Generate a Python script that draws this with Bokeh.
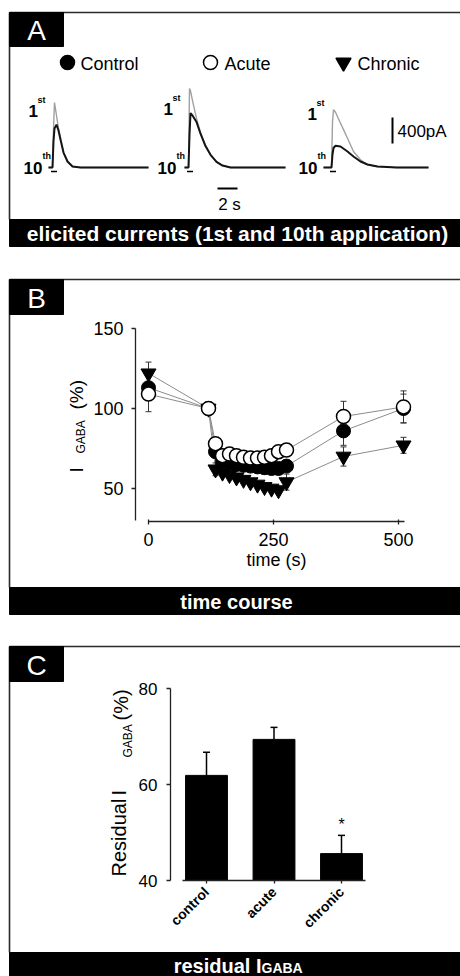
import math
from bokeh.plotting import figure
from bokeh.models import Range1d, LinearAxis, FixedTicker, Label, ColumnDataSource
from bokeh.embed import file_html
from bokeh.resources import INLINE
from bokeh.core.properties import value

FONT = "Liberation Sans"

# ---------------- data ----------------
series_names = ["Control", "Acute", "Chronic"]

# Panel A: elicited currents, time from onset (s) and current (pA)
ctrl_tr_t = [-0.4, 0.0, 0.1, 0.2, 0.4, 0.6, 0.8, 1.1, 1.5, 2.0, 2.8, 4.0, 6.0, 9.6]
ctrl_1st = [0, 0, 600, 1000, 800, 600, 446, 235, 95, 15, 0, 0, 0, 0]
ctrl_10th = [0, 0, 400, 600, 660, 570, 430, 230, 92, 15, 0, 0, 0, 0]

acute_tr_t = [-0.4, 0.0, 0.1, 0.2, 0.4, 0.8, 1.2, 1.7, 2.2, 2.8, 3.4, 4.2, 6.0, 9.7]
acute_1st = [0, 0, 1215, 1180, 1030, 755, 540, 340, 200, 90, 30, 0, 0, 0]
acute_10th = [0, 0, 500, 836, 800, 700, 520, 330, 195, 88, 30, 0, 0, 0]

chronic_tr_t = [-0.8, 0.0, 0.1, 0.2, 0.4, 0.9, 1.6, 2.2, 2.9, 3.6, 4.6, 6.5, 9.7]
chronic_1st = [0, 0, 700, 889, 850, 682, 451, 246, 119, 42, 15, 0, 0]
chronic_10th = [0, 0, 200, 300, 334, 323, 246, 170, 92, 46, 15, 0, 0]

scale_pA = 400
scale_s = 2

# Panel B: time course
time_s = [0, 120, 134, 148, 162, 176, 190, 204, 218, 232, 246, 260, 276, 390, 510]
control_pct = [113, 100, 73, 67, 66, 65, 64.5, 64, 63.5, 63, 62.5, 62.5, 64, 86, 100]
acute_pct = [109, 100, 78, 70.5, 71.5, 70.5, 69.5, 69, 69, 69.5, 70.5, 73, 74, 95, 101]
chronic_pct = [122, 100, 62, 60, 58.5, 57, 55.5, 54, 52.5, 51, 50, 49, 54, 70, 77]
control_err = [0, 0, 0, 0, 0, 0, 0, 0, 0, 4, 0, 0, 0, 9, 9]
acute_err = [11, 0, 0, 0, 0, 0, 0, 0, 0, 0, 0, 0, 0, 9.5, 10]
chronic_err = [7, 0, 4, 0, 0, 0, 0, 0, 0, 0, 0, 0, 5, 6, 5]
b_yticks = [50, 100, 150]
b_xticks = [0, 250, 500]

# Panel C: residual I_GABA
groups = ["control", "acute", "chronic"]
residual_pct = [61.9, 69.4, 45.6]
residual_err = [4.8, 2.5, 3.8]
c_yticks = [40, 60, 80]

# ---------------- figure ----------------
W, H = 460, 976
FX0, FX1, FY0, FY1 = 0, W, 0, H


def xr(d1, p1, d2, p2):
    s = (p2 - p1) / (d2 - d1)
    return Range1d(d1 - (p1 - FX0) / s, d1 + (FX1 - p1) / s)


def yr(d1, p1, d2, p2):
    s = (p1 - p2) / (d2 - d1)
    return Range1d(d1 - (FY1 - p1) / s, d1 + (p1 - FY0) / s)


p = figure(width=W, height=H, x_range=Range1d(FX0, FX1), y_range=Range1d(FY1, FY0),
           output_backend="svg", toolbar_location=None, min_border=0,
           x_axis_type=None, y_axis_type=None)
p.outline_line_color = None
p.background_fill_color = "white"
p.border_fill_color = "white"

p.extra_x_ranges = {"ax": xr(0, 52, 10, 152), "bx": xr(0, 148, 500, 398), "cx": xr(0, 206, 2, 341)}
p.extra_y_ranges = {"ay": yr(0, 167, 400, 141), "by": yr(50, 488, 100, 408), "cy": yr(40, 880, 80, 688)}


def lab(x, y, text, size, bold=False, color="black", align="left", baseline="alphabetic", angle=0.0):
    p.add_layout(Label(x=x, y=y, text=text, text_font=FONT, text_font_size=f"{size}px",
                       text_font_style="bold" if bold else "normal", text_color=color,
                       text_align=align, text_baseline=baseline, angle=angle))


BORDER = "#2a2a2a"
# panel frames: (top, header bottom, footer top, footer bottom)
panels = [("A", 12, 46, 219, 246), ("B", 279, 314, 587, 614), ("C", 646, 681, 952, 976)]
for letter, top, hb, ft, fb in panels:
    p.segment(x0=[9, 9], y0=[top, top], x1=[FX1, 9], y1=[top, ft], line_color=BORDER, line_width=1.6)
    p.quad(left=[9, 9], right=[63, FX1], top=[top, ft], bottom=[hb, fb], fill_color="black", line_color="black")
    lab(36, (top + hb) / 2 + 1, letter, 28, color="white", align="center", baseline="middle")

lab(237, 233, "elicited currents (1st and 10th application)", 21, bold=True, color="white",
    align="center", baseline="middle")
lab(236, 601, "time course", 20, bold=True, color="white", align="center", baseline="middle")
lab(261, 965, "residual I", 20, bold=True, color="white", align="right", baseline="middle")
lab(261, 967, "GABA", 14, bold=True, color="white", align="left", baseline="middle")

# ---------------- Panel A ----------------
leg = ColumnDataSource(dict(x=[67, 210, 343], y=[62, 62, 62],
                            marker=["circle", "circle", "inverted_triangle"],
                            fill=["black", "white", "black"], size=[14, 14, 15]))
p.scatter(x="x", y="y", marker="marker", size="size", fill_color="fill", line_color="black",
          line_width=1.5, source=leg)
for xx, name in zip([80, 224, 357], series_names):
    lab(xx, 63, name, 18, baseline="middle")

onsets = [0.0, 13.6, 27.9]
traces = [(ctrl_tr_t, ctrl_1st, ctrl_10th), (acute_tr_t, acute_1st, acute_10th),
          (chronic_tr_t, chronic_1st, chronic_10th)]
for off, (tt, first, tenth) in zip(onsets, traces):
    xs = [t + off for t in tt]
    p.line(xs, first, x_range_name="ax", y_range_name="ay", line_color="#a0a0a0", line_width=1.4)
    p.line(xs, tenth, x_range_name="ax", y_range_name="ay", line_color="#151515", line_width=2)
    p.segment(x0=[off - 0.15], y0=[-60], x1=[off + 0.45], y1=[-60], x_range_name="ax",
              y_range_name="ay", line_color="black", line_width=1.5)

# scale bars
p.segment(x0=[34], y0=[370], x1=[34], y1=[370 + scale_pA], x_range_name="ax", y_range_name="ay",
          line_color="black", line_width=2)
p.segment(x0=[16.5], y0=[-323], x1=[16.5 + scale_s], y1=[-323], x_range_name="ax", y_range_name="ay",
          line_color="black", line_width=2)
lab(397, 131, f"{scale_pA}pA", 17, baseline="middle")
lab(229, 204, f"{scale_s} s", 17, align="center", baseline="middle")

# 1st / 10th labels
for x1, y1, x10 in [(28, 110, 23), (163, 108, 157), (307, 113, 298)]:
    lab(x1, y1, "1", 17, bold=True)
    lab(x1 + 9, y1 - 11, "st", 9, bold=True)
    lab(x10, 167, "10", 17, bold=True)
    lab(x10 + 19, 155, "th", 9, bold=True)

# ---------------- Panel B ----------------
for vals in (chronic_pct, control_pct, acute_pct):
    p.line(time_s, vals, x_range_name="bx", y_range_name="by", line_color="#8c8c8c", line_width=1)

for vals, err in ((chronic_pct, chronic_err), (control_pct, control_err), (acute_pct, acute_err)):
    tt = [t for t, e in zip(time_s, err) if e > 0]
    lo = [v - e for v, e in zip(vals, err) if e > 0]
    hi = [v + e for v, e in zip(vals, err) if e > 0]
    p.segment(x0=tt, y0=lo, x1=tt, y1=hi, x_range_name="bx", y_range_name="by",
              line_color="#333333", line_width=1)
    p.scatter(tt + tt, lo + hi, marker="dash", size=6, line_color="#333333", line_width=1,
              x_range_name="bx", y_range_name="by")

p.scatter(time_s, chronic_pct, marker="inverted_triangle", size=15, fill_color="black",
          line_color="black", x_range_name="bx", y_range_name="by")
p.scatter(time_s, control_pct, marker="circle", size=14, fill_color="black", line_color="black",
          x_range_name="bx", y_range_name="by")
p.scatter(time_s, acute_pct, marker="circle", size=14, fill_color="white", line_color="black",
          line_width=1.5, x_range_name="bx", y_range_name="by")


def style_axis(ax, size, bold=False):
    ax.axis_line_color = "#222222"
    ax.axis_line_width = 1.3
    ax.major_tick_line_color = "#222222"
    ax.major_tick_line_width = 1.3
    ax.minor_tick_line_color = None
    ax.major_label_text_font = FONT
    ax.major_label_text_font_size = f"{size}px"
    ax.major_label_text_font_style = "bold" if bold else "normal"
    ax.major_label_text_color = "black"
    ax.axis_label_text_font = FONT
    ax.axis_label_text_font_style = "normal"
    ax.axis_label_text_color = "black"


by_ax = LinearAxis(x_range_name="bx", y_range_name="by", fixed_location=-26, bounds=(30, 150),
                   ticker=FixedTicker(ticks=b_yticks), major_tick_in=0, major_tick_out=4,
                   major_label_standoff=8)
style_axis(by_ax, 18)
p.add_layout(by_ax, "left")

bx_ax = LinearAxis(x_range_name="bx", y_range_name="by", fixed_location=29.4, bounds=(0, 512),
                   ticker=FixedTicker(ticks=b_xticks), major_tick_in=2, major_tick_out=3,
                   major_label_standoff=9, axis_label="time (s)", axis_label_standoff=0,
                   axis_label_text_font_size="18px")
style_axis(bx_ax, 18)
p.add_layout(bx_ax, "below")

rot = math.pi / 2
lab(76, 472, "I", 19, angle=rot)
lab(80, 453, "GABA", 12, angle=rot)
lab(76, 409, "(%)", 19, angle=rot)

# ---------------- Panel C ----------------
idx = list(range(len(groups)))
p.vbar(x=idx, top=residual_pct, bottom=40, width=0.62, fill_color="black", line_color="black",
       x_range_name="cx", y_range_name="cy")
hi = [v + e for v, e in zip(residual_pct, residual_err)]
p.segment(x0=idx, y0=residual_pct, x1=idx, y1=hi, line_color="black", line_width=1.5,
          x_range_name="cx", y_range_name="cy")
p.scatter(idx, hi, marker="dash", size=7, line_color="black", line_width=1.5,
          x_range_name="cx", y_range_name="cy")
p.text(x=[idx[2]], y=[hi[2]], text=["*"], text_font=value(FONT), text_font_size="16px",
       text_align="center", text_baseline="bottom", y_offset=-2, x_range_name="cx", y_range_name="cy")

cy_ax = LinearAxis(x_range_name="cx", y_range_name="cy", fixed_location=-0.533, bounds=(40, 80),
                   ticker=FixedTicker(ticks=c_yticks), major_tick_in=0, major_tick_out=4,
                   major_label_standoff=9)
style_axis(cy_ax, 17)
p.add_layout(cy_ax, "left")

cx_ax = LinearAxis(x_range_name="cx", y_range_name="cy", fixed_location=40, bounds=(-0.356, 2.356),
                   ticker=FixedTicker(ticks=idx), major_tick_in=0, major_tick_out=3,
                   major_label_standoff=6, major_label_orientation=math.pi / 4,
                   major_label_overrides={i: g for i, g in zip(idx, groups)})
style_axis(cx_ax, 14, bold=True)
p.add_layout(cx_ax, "below")

lab(118, 876, "Residual", 20, angle=rot)
lab(118, 795, "I", 20, angle=rot)
lab(127, 757, "GABA", 12, angle=rot)
lab(120, 720, "(%)", 20, angle=rot)

open("out.html", "w").write(file_html(p, INLINE))
